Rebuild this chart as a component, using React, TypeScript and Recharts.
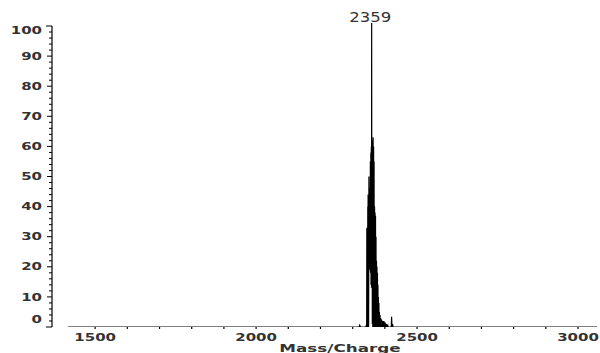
import React from 'react';
import { LineChart, Line, XAxis, YAxis, ReferenceDot, ReferenceLine } from 'recharts';

// [mass/charge, relative intensity]
const spectrum: [number, number][] = [
  [1416, 0], [2320, 0], [2322, 0.6], [2324, 0], [2341, 0], [2343, 0.8], [2343.5, 0],
  [2344, 33], [2344.5, 0], [2345, 6], [2346, 0], [2347, 40], [2347.5, 14], [2348, 44],
  [2348.5, 18], [2349, 30], [2349.5, 0], [2350.5, 50], [2351, 20], [2352, 46], [2352.5, 19],
  [2353.5, 42], [2354, 19], [2355, 55], [2355.5, 18], [2356.5, 58], [2357, 14], [2358, 60],
  [2358.5, 13], [2359, 101], [2359.5, 13], [2360.5, 58], [2361, 1], [2362, 62], [2362.5, 0],
  [2363.5, 63], [2364, 0], [2365, 60], [2365.5, 0], [2366.5, 55], [2367, 0], [2368, 40],
  [2368.5, 0], [2369.5, 38], [2370, 0], [2371, 37], [2371.5, 0], [2372.5, 30], [2373, 0],
  [2374, 22], [2374.5, 0], [2375.5, 20], [2376, 0], [2377, 18], [2377.5, 0], [2378.5, 14],
  [2379, 0], [2380, 10], [2380.5, 0], [2381.5, 8], [2382, 0], [2383, 5], [2383.5, 0],
  [2385, 4], [2386, 0], [2387, 3], [2388, 0], [2390, 2.5], [2391, 0], [2393, 2], [2394, 0],
  [2397, 2], [2398, 0], [2401, 1.5], [2402, 0], [2405, 1], [2406, 0], [2409, 0.6], [2410, 0],
  [2420, 0], [2421, 3.4], [2422, 0], [2424, 1], [2425, 0], [3059, 0],
];

const xDomain: [number, number] = [1366, 3059];
const yDomain: [number, number] = [0, 101];
const xTicks = [1500, 1600, 1700, 1800, 1900, 2000, 2100, 2200, 2300, 2400, 2500, 2600, 2700, 2800, 2900, 3000];
const xLabelTicks = [1500, 2000, 2500, 3000];
const yTicks = [0, 2, 4, 6, 8, 10, 12, 14, 16, 18, 20, 22, 24, 26, 28, 30, 32, 34, 36, 38, 40, 42, 44, 46, 48, 50,
  52, 54, 56, 58, 60, 62, 64, 66, 68, 70, 72, 74, 76, 78, 80, 82, 84, 86, 88, 90, 92, 94, 96, 98, 100];
const yLabelTicks = [0, 10, 20, 30, 40, 50, 60, 70, 80, 90, 100];
const peakMz = 2359;
const peakIntensity = 101;
const xAxisTitle = 'Mass/Charge';

const data = spectrum.map(([mz, intensity]) => ({ mz, intensity }));

const FONT = '"DejaVu Sans", sans-serif';

const XTick = (props: any) => {
  const { x, y, payload } = props;
  const v = payload.value;
  const labelled = xLabelTicks.includes(v);
  return (
    <g>
      <line x1={x} y1={y} x2={x} y2={y + 2} stroke="#000" strokeWidth={1.2} />
      {labelled && (
        <text
          transform={`translate(${x},${y + 14}) scale(1.5,1)`}
          textAnchor="middle"
          fontFamily={FONT}
          fontWeight="bold"
          fontSize={10}
          fill="#333"
        >
          {v}
        </text>
      )}
    </g>
  );
};

const YTick = (props: any) => {
  const { x, y, payload } = props;
  const v = payload.value;
  const labelled = yLabelTicks.includes(v);
  const len = v === 0 || v === 100 ? 6 : labelled ? 5 : 3;
  const shift = v === 100 ? 4.5 : v === 0 ? -8 : 0;
  return (
    <g>
      <line x1={x - len} y1={y} x2={x} y2={y} stroke="#000" strokeWidth={1} />
      {labelled && (
        <text
          transform={`translate(${x - 10},${y + shift + 3.6}) scale(1.5,1)`}
          textAnchor="end"
          fontFamily={FONT}
          fontWeight="bold"
          fontSize={10}
          fill="#333"
        >
          {v}
        </text>
      )}
    </g>
  );
};

const renderXTitle = (props: any) => {
  const vb = props.viewBox || {};
  const cx = vb.x + vb.width / 2 + 15.5;
  const by = vb.y + vb.height - 1;
  return (
    <text
      transform={`translate(${cx},${by}) scale(1.6,1)`}
      textAnchor="middle"
      fontFamily={FONT}
      fontWeight="bold"
      fontSize={10.5}
      fill="#333"
    >
      {xAxisTitle}
    </text>
  );
};

const renderPeakLabel = (props: any) => {
  const vb = props.viewBox || {};
  const cx = vb.x + (vb.width || 0) / 2;
  const cy = vb.y + (vb.height || 0) / 2;
  return (
    <text
      transform={`translate(${cx - 1.5},${cy - 1}) scale(1.18,1)`}
      textAnchor="middle"
      fontFamily={FONT}
      fontSize={14}
      fill="#333"
    >
      {String(peakMz)}
    </text>
  );
};

export default function App() {
  return (
    <div style={{ position: 'absolute', left: 0, top: 0, width: 600, height: 353, background: '#fff' }}>
      <LineChart width={600} height={353} data={data} margin={{ top: 23, right: 3, bottom: 0, left: 0 }}>
        <XAxis
          type="number"
          dataKey="mz"
          domain={xDomain}
          ticks={xTicks}
          interval={0}
          axisLine={false}
          tickLine={false}
          tickSize={0}
          tickMargin={0}
          tick={<XTick />}
          height={26}
          allowDataOverflow
          label={renderXTitle}
        />
        <YAxis
          type="number"
          domain={yDomain}
          ticks={yTicks}
          interval={0}
          axisLine={false}
          tickLine={false}
          tickSize={0}
          tickMargin={0}
          tick={<YTick />}
          width={52}
          allowDataOverflow
        />
        <ReferenceLine
          segment={[{ x: xDomain[0], y: 0 }, { x: xDomain[0], y: 100 }]}
          stroke="#000"
          strokeWidth={1.2}
          ifOverflow="visible"
        />
        <Line
          type="linear"
          dataKey="intensity"
          stroke="#000"
          strokeWidth={1.2}
          dot={false}
          isAnimationActive={false}
        />
        <ReferenceDot x={peakMz} y={peakIntensity} r={0} fill="none" stroke="none" label={renderPeakLabel} ifOverflow="visible" />
      </LineChart>
    </div>
  );
}
